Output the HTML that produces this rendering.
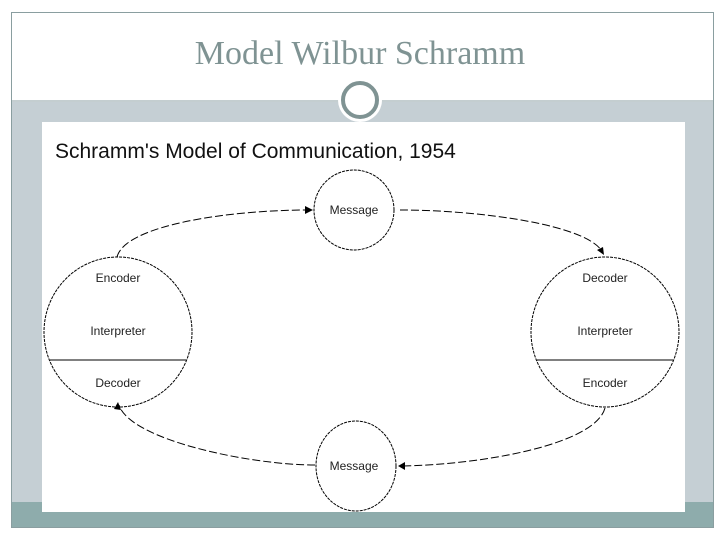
<!DOCTYPE html>
<html><head><style>
html,body{margin:0;padding:0;background:#fff;}
body{width:720px;height:540px;position:relative;overflow:hidden;font-family:"Liberation Sans",sans-serif;}
</style></head><body>
<svg width="720" height="540" viewBox="0 0 720 540" xmlns="http://www.w3.org/2000/svg" style="position:absolute;left:0;top:0">
<rect x="11.5" y="12.5" width="702" height="515" fill="#fff" stroke="#8a9ea0"/>
<rect x="12" y="102" width="701" height="400" fill="#c5cfd4"/>
<rect x="12" y="502" width="701" height="25" fill="#8eacac"/>
<line x1="12" y1="101" x2="713" y2="101" stroke="#8a9ea0" stroke-width="1"/>
<text x="360" y="64" text-anchor="middle" font-family="Liberation Serif" font-size="34" fill="#7f9393">Model Wilbur Schramm</text>
<rect x="42" y="122" width="643" height="390" fill="#fff"/>
<circle cx="360" cy="100" r="22" fill="#fff"/>
<circle cx="360" cy="100" r="17" fill="#fff" stroke="#7f9393" stroke-width="4"/>
<text x="55" y="158" font-size="21" fill="#111">Schramm's Model of Communication, 1954</text>
<g fill="none" stroke="#000" stroke-width="1">
<ellipse cx="354" cy="210" rx="40" ry="40" stroke-dasharray="3,1"/>
<ellipse cx="118" cy="332" rx="74" ry="75" stroke-dasharray="3,1"/>
<ellipse cx="605" cy="332" rx="74" ry="75" stroke-dasharray="3,1"/>
<ellipse cx="356" cy="466" rx="40" ry="45" stroke-dasharray="3,1"/>
<line x1="50" y1="360" x2="186" y2="360"/>
<line x1="537" y1="360" x2="673" y2="360"/>
<path d="M117 257 C125 225,230 210,308 210" stroke-dasharray="8,3"/>
<path d="M400 210 C480 210,590 225,603 253" stroke-dasharray="8,3"/>
<path d="M605 408 C595 445,480 465,400 466" stroke-dasharray="8,3"/>
<path d="M315 465 C250 465,130 440,119 405" stroke-dasharray="8,3"/>
</g>
<g fill="#000">
<polygon points="313,210 305,206 305,214"/>
<polygon points="604,255 597,250 603,247"/>
<polygon points="398,466 405,462 405,470"/>
<polygon points="118,402 114,409 121,410"/>
</g>
<g font-size="12" fill="#222" text-anchor="middle">
<text x="354" y="214">Message</text>
<text x="118" y="282">Encoder</text>
<text x="118" y="335">Interpreter</text>
<text x="118" y="387">Decoder</text>
<text x="605" y="282">Decoder</text>
<text x="605" y="335">Interpreter</text>
<text x="605" y="387">Encoder</text>
<text x="354" y="470">Message</text>
</g>
</svg>
</body></html>
